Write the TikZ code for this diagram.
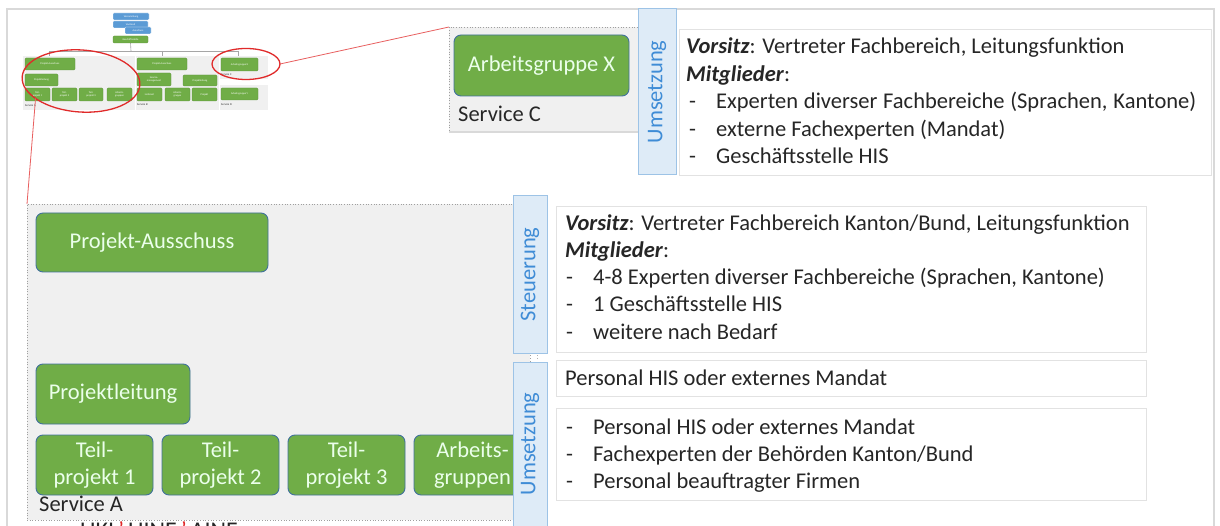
\documentclass[tikz,border=0pt]{standalone}
\usepackage{fontspec}
\setmainfont{Carlito}
\usetikzlibrary{shapes.geometric}
\definecolor{grn}{HTML}{70AD47}
\definecolor{grnb}{HTML}{41719C}
\definecolor{tabf}{HTML}{DEEBF7}
\definecolor{tabb}{HTML}{9DC3E6}
\definecolor{tabt}{HTML}{3F8CD6}
\definecolor{bgg}{HTML}{F0F0F0}
\definecolor{frm}{HTML}{D9D9D9}
\definecolor{boxb}{HTML}{E2E2E2}
\definecolor{mblue}{HTML}{5B9BD5}
\definecolor{redl}{HTML}{E02A2A}
\definecolor{txtc}{HTML}{262626}
\newcommand{\mybox}[7][]{\node[#1, minimum width={#5pt-#3pt}, minimum height={#6pt-#4pt}] (#2) at ({(#3+#5)/2},{(#4+#6)/2}) {#7};}
\newcommand{\dashitem}[1]{\makebox[27pt][l]{-}#1}
\tikzset{
  gbox/.style={draw=grnb, fill=grn, line width=0.9pt, rounded corners=7pt, text=white!92!green, font=\fontsize{22.5}{27}\selectfont, align=center, inner sep=0pt, outer sep=0pt},
  mg/.style={fill=grn, draw=grn!85!black, line width=0.3pt, rounded corners=1.2pt, text=white, font=\fontsize{2.6}{3}\selectfont, align=center, inner sep=0pt, outer sep=0pt},
  mb/.style={fill=mblue, draw=white, line width=0.3pt, rounded corners=1pt, text=white, font=\fontsize{2.6}{3}\selectfont, align=center, inner sep=0pt, outer sep=0pt},
  mbg/.style={fill=bgg, draw=none, inner sep=0pt, outer sep=0pt},
  mlbl/.style={anchor=base west, inner sep=0pt, font=\fontsize{2.8}{3}\selectfont, text=txtc},
  tabbox/.style={fill=tabf, draw=tabb, line width=1pt, inner sep=0pt, outer sep=0pt},
  tabtxt/.style={rotate=90, text=tabt, font=\fontsize{22.5}{27}\selectfont, inner sep=0pt},
  tbox/.style={draw=boxb, fill=white, line width=0.9pt, inner sep=0pt, outer sep=0pt},
  svc/.style={fill=bgg, draw=gray!75, dotted, line width=0.7pt, inner sep=0pt, outer sep=0pt},
  txt/.style={anchor=base west, inner sep=0pt, font=\fontsize{22.5}{27}\selectfont, text=txtc},
  redell/.style={draw=redl, line width=1.3pt, ellipse, inner sep=0pt, outer sep=0pt},
  redline/.style={draw=redl!75, line width=0.8pt}
}
\begin{document}
\begin{tikzpicture}[x=1pt,y=-1pt]
\useasboundingbox (0,0) rectangle (1220,526);
\fill[white] (0,0) rectangle (1220,526);
% outer frame
\draw[frm, line width=1.6pt] (7,530) -- (7,9) -- (1214,9) -- (1214,530);

% ---------- mini overview ----------
\mybox[mbg]{bgA}{23}{56}{135}{110}{}
\mybox[mbg]{bgB}{136}{56}{219}{110}{}
\mybox[mbg]{bgC}{220}{56}{268}{79}{}
\mybox[mbg]{bgD}{220}{85}{268}{110}{}
\mybox[mb]{mVers}{113}{13}{149}{20}{Versammlung}
\mybox[mb]{mVor}{113}{21}{148}{28}{Vorstand}
\mybox[mb]{mAus}{125}{27}{151}{34}{Ausschuss}
\mybox[mg]{mGs}{113}{36}{148}{43}{Geschäftsstelle}
\coordinate (jA) at (49,51);
\coordinate (jB) at (162,51);
\coordinate (jC) at (238,51);
\coordinate (jM) at (131,51);
\coordinate (dA) at (49,56);
\coordinate (dB) at (162,56);
\coordinate (dC) at (238,56);
\draw[gray!70, line width=0.6pt] (mGs.south) -- (jM);
\draw[gray!70, line width=0.6pt] (jA) -- (jC);
\draw[gray!70, line width=0.6pt] (jA) -- (dA);
\draw[gray!70, line width=0.6pt] (jB) -- (dB);
\draw[gray!70, line width=0.6pt] (jC) -- (dC);
\mybox[mg]{mPA}{25}{58}{75}{70}{Projekt-Ausschuss}
\mybox[mg]{mPL}{25}{74}{58}{86}{Projektleitung}
\mybox[mg]{mT1}{25}{88}{50}{101}{Teil-\\projekt 1}
\mybox[mg]{mT2}{52}{88}{77}{101}{Teil-\\projekt 2}
\mybox[mg]{mT3}{79}{88}{103}{101}{Teil-\\projekt 3}
\mybox[mg]{mAG}{107}{88}{132}{101}{Arbeits-\\gruppen}
\node[mlbl] (mlA) at (25,107) {Service A};
\mybox[mg]{mPB}{137}{58}{187}{70}{Projekt-Ausschuss}
\mybox[mg]{mSM}{137}{73}{171}{86}{Service-\\management}
\mybox[mg]{mPLB}{183}{75}{217}{86}{Projektleitung}
\mybox[mg]{mLi}{137}{88}{162}{101}{Lieferant}
\mybox[mg]{mAGB}{165}{88}{190}{101}{Arbeits-\\gruppe}
\mybox[mg]{mPr}{192}{88}{217}{101}{Projekt}
\node[mlbl] (mlB) at (137,106) {Service B};
\mybox[mg]{mAX}{221}{58}{258}{71}{Arbeitsgruppe X}
\node[mlbl] (mlC) at (221,76) {Service C};
\mybox[mg]{mAY}{221}{88}{258}{100}{Arbeitsgruppe Y}
\node[mlbl] (mlD) at (221,106) {Service D};

% red ellipses
\node[redell, minimum width=118pt, minimum height=62pt, rotate=-4] (ell1) at (81,81) {};
\node[redell, minimum width=68pt, minimum height=31pt] (ell2) at (246,64) {};

% ---------- Service C detail ----------
\mybox[svc]{svcC}{449}{27}{642}{132}{}
\draw[frm, line width=1.6pt] (svcC.south west) -- (svcC.south east);
\mybox[gbox]{agX}{454}{35}{629}{96}{Arbeitsgruppe X}
\node[txt] (lblC) at (458,122) {Service C};

% ---------- Service A detail ----------
\mybox[svc]{svcA}{27}{204}{530}{520}{}
\mybox[gbox]{pA}{36}{213}{268}{272}{Projekt-Ausschuss}
\mybox[gbox]{pL}{36}{364}{190}{424}{Projektleitung}
\mybox[gbox]{tp1}{36}{435}{153}{495}{Teil-\\projekt 1}
\mybox[gbox]{tp2}{162}{435}{279}{495}{Teil-\\projekt 2}
\mybox[gbox]{tp3}{288}{435}{405}{495}{Teil-\\projekt 3}
\mybox[gbox]{agA}{414}{435}{531}{495}{Arbeits-\\gruppen}
\node[txt] (lblA) at (39,511) {Service A};

% red connectors
\draw[redline] (ell2.east) -- (svcC.north west);
\draw[redline] (ell1.205) -- (svcA.north west);

% cut text at bottom edge
\begin{scope}
\clip (0,521) rectangle (1220,526);
\node[txt, font=\fontsize{24}{27}\selectfont] (cut) at (80,538) {UKI\textcolor{redl}{\,'\,}UINE\textcolor{redl}{\,'\,}AINE};
\end{scope}

% ---------- tabs ----------
\mybox[tabbox]{tabU1}{638}{9}{676}{175}{}
\node[tabtxt] (tU1) at (tabU1.center) {Umsetzung};
\mybox[tabbox]{tabS}{513}{196}{547}{353}{}
\node[tabtxt] (tS) at (tabS.center) {Steuerung};
\mybox[tabbox]{tabU2}{513}{362}{547}{530}{}
\node[tabtxt] (tU2) at (530,444) {Umsetzung};
\coordinate (dm1) at (537,355);
\coordinate (dm2) at (537,360);
\draw[gray!60, dotted, line width=0.8pt] (dm1) -- (dm2);

% ---------- text boxes ----------
\mybox[tbox]{boxU1}{679}{29}{1211}{175}{}
\node[txt] (u1a) at (686,54) {\textbf{\textit{Vorsitz}}: Vertreter Fachbereich, Leitungsfunktion};
\node[txt] (u1b) at (686,82) {\textbf{\textit{Mitglieder}}:};
\node[txt] (u1c) at (689,109) {\dashitem{\makebox[480pt][s]{Experten diverser Fachbereiche (Sprachen, Kantone)}}};
\node[txt] (u1d) at (689,137) {\dashitem{externe Fachexperten (Mandat)}};
\node[txt] (u1e) at (689,164) {\dashitem{Geschäftsstelle HIS}};

\mybox[tbox]{boxS}{556}{206}{1146}{352}{}
\node[txt] (sa) at (565,231) {\textbf{\textit{Vorsitz}}: Vertreter Fachbereich Kanton/Bund, Leitungsfunktion};
\node[txt] (sb) at (565,258) {\textbf{\textit{Mitglieder}}:};
\node[txt] (sc) at (566,285) {\dashitem{4-8 Experten diverser Fachbereiche (Sprachen, Kantone)}};
\node[txt] (sd) at (566,312) {\dashitem{1 Geschäftsstelle HIS}};
\node[txt] (se) at (566,339) {\dashitem{weitere nach Bedarf}};

\mybox[tbox]{boxP}{556}{360}{1146}{396}{}
\node[txt] (pa) at (565,385) {Personal HIS oder externes Mandat};

\mybox[tbox]{boxT}{556}{408}{1146}{500}{}
\node[txt] (ta) at (566,434) {\dashitem{Personal HIS oder externes Mandat}};
\node[txt] (tb) at (566,461) {\dashitem{Fachexperten der Behörden Kanton/Bund}};
\node[txt] (tc) at (566,488) {\dashitem{Personal beauftragter Firmen}};
\end{tikzpicture}
\end{document}
